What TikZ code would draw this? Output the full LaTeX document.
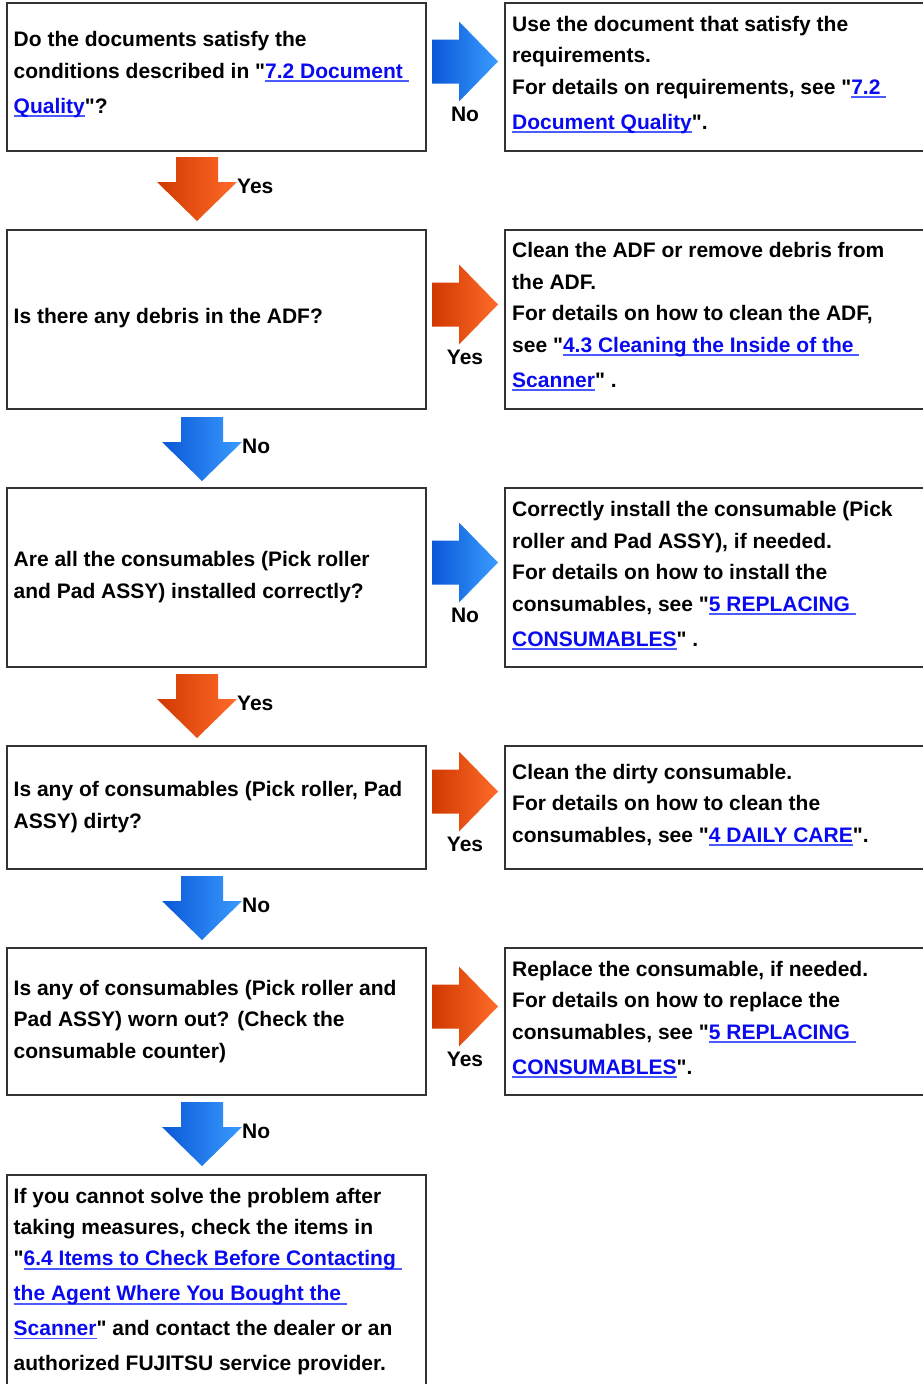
\documentclass[tikz,border=0pt]{standalone}
\usepackage{fontspec}
\setmainfont{Liberation Sans}[Ligatures=TeXOff]
\usetikzlibrary{calc}
\definecolor{linkblue}{HTML}{0A0AF0}
\definecolor{ulblue}{HTML}{4B5BFF}
\definecolor{boxgray}{HTML}{333333}
\definecolor{bluelight}{HTML}{3A9BFF}
\definecolor{bluemid}{HTML}{1F80FF}
\definecolor{bluedark}{HTML}{0A58D6}
\definecolor{orglight}{HTML}{FF6C2A}
\definecolor{orgmid}{HTML}{FF5A14}
\definecolor{orgdark}{HTML}{D03800}

% underlined cross reference
\newcommand{\lnk}[1]{{\color{linkblue}\setbox0\hbox{#1}\rlap{\color{ulblue}\rule[-3.8pt]{\wd0}{1.6pt}}\box0}}

\begin{document}
\begin{tikzpicture}[x=1pt, y=-1pt,
  box/.style={draw=boxgray, line width=1.4pt, inner sep=0pt, outer sep=0pt, anchor=north west},
  txt/.style={anchor=base west, align=left, inner sep=0pt, font=\fontsize{21}{31.4}\selectfont\bfseries},
  lab/.style={inner sep=0pt, font=\fontsize{21}{25}\selectfont\bfseries}]
  \fill[white] (0,0) rectangle (922,1384);
  \useasboundingbox (0,0) rectangle (922,1384);

  % Questions (left column)
  \node[box, minimum width=419, minimum height=148] (q1) at (7,3) {};
  \node[box, minimum width=419, minimum height=179] (q2) at (7,230) {};
  \node[box, minimum width=419, minimum height=179] (q3) at (7,488) {};
  \node[box, minimum width=419, minimum height=123] (q4) at (7,746) {};
  \node[box, minimum width=419, minimum height=147] (q5) at (7,948) {};
  \node[box, minimum width=419, minimum height=220] (q6) at (7,1175) {};

  % Remedies (right column)
  \node[box, minimum width=425, minimum height=148] (r1) at (505,3) {};
  \node[box, minimum width=425, minimum height=179] (r2) at (505,230) {};
  \node[box, minimum width=425, minimum height=179] (r3) at (505,488) {};
  \node[box, minimum width=425, minimum height=123] (r4) at (505,746) {};
  \node[box, minimum width=425, minimum height=147] (r5) at (505,948) {};

  % Texts (placed at the baseline of their last line)
  \node[txt] (q1t) at ($(q1.north west)+(6.5,110)$) {Do the documents satisfy the\\
    conditions described in "\lnk{7.2 Document\ }\\[3.5pt]
    \lnk{Quality}"?};
  \node[txt] (q2t) at ($(q2.north west)+(6.5,93)$) {Is there any debris in the ADF?};
  \node[txt] (q3t) at ($(q3.north west)+(6.5,110)$) {Are all the consumables (Pick roller\\
    and Pad ASSY) installed correctly?};
  \node[txt] (q4t) at ($(q4.north west)+(6.5,82)$) {Is any of consumables (Pick roller, Pad\\
    ASSY) dirty?};
  \node[txt] (q5t) at ($(q5.north west)+(6.5,110)$) {Is any of consumables (Pick roller and\\
    Pad ASSY) worn out? (Check the\\
    consumable counter)};
  \node[txt] (q6t) at ($(q6.north west)+(6.5,195)$) {If you cannot solve the problem after\\
    taking measures, check the items in\\
    "\lnk{6.4 Items to Check Before Contacting\ }\\[3.5pt]
    \lnk{the Agent Where You Bought the\ }\\[3.5pt]
    \lnk{Scanner}" and contact the dealer or an\\[3pt]
    authorized FUJITSU service provider.};

  \node[txt] (r1t) at ($(r1.north west)+(7,126)$) {Use the document that satisfy the\\
    requirements.\\
    For details on requirements, see "\lnk{7.2\ }\\[3.5pt]
    \lnk{Document Quality}".};
  \node[txt] (r2t) at ($(r2.north west)+(7,157)$) {Clean the ADF or remove debris from\\
    the ADF.\\
    For details on how to clean the ADF,\\
    see "\lnk{4.3 Cleaning the Inside of the\ }\\[3.5pt]
    \lnk{Scanner}" .};
  \node[txt] (r3t) at ($(r3.north west)+(7,158)$) {Correctly install the consumable (Pick\\
    roller and Pad ASSY), if needed.\\
    For details on how to install the\\
    consumables, see "\lnk{5 REPLACING\ }\\[3.5pt]
    \lnk{CONSUMABLES}" .};
  \node[txt] (r4t) at ($(r4.north west)+(7,96)$) {Clean the dirty consumable.\\
    For details on how to clean the\\
    consumables, see "\lnk{4 DAILY CARE}".};
  \node[txt] (r5t) at ($(r5.north west)+(7,126)$) {Replace the consumable, if needed.\\
    For details on how to replace the\\
    consumables, see "\lnk{5 REPLACING\ }\\[3.5pt]
    \lnk{CONSUMABLES}".};

  % Down arrows
  \foreach \cx/\ty/\cd/\cm/\cl/\lbl [count=\i] in {197/157/orgdark/orgmid/orglight/Yes,
      202/417/bluedark/bluemid/bluelight/No, 197/674/orgdark/orgmid/orglight/Yes,
      202/876/bluedark/bluemid/bluelight/No, 202/1102/bluedark/bluemid/bluelight/No} {
    \shade[left color=\cd, middle color=\cm, right color=\cl] (\cx-21,\ty) -- (\cx+21,\ty) -- (\cx+21,\ty+25)
      -- (\cx+40,\ty+25) -- (\cx,\ty+64) -- (\cx-40,\ty+25) -- (\cx-21,\ty+25) -- cycle;
    \node[lab, anchor=base west] (d\i) at (\cx+40,\ty+36) {\lbl};
  }

  % Right arrows
  \foreach \cy/\cd/\cm/\cl/\lbl [count=\i] in {61.5/bluedark/bluemid/bluelight/No,
      304.5/orgdark/orgmid/orglight/Yes, 562.5/bluedark/bluemid/bluelight/No,
      791.5/orgdark/orgmid/orglight/Yes, 1006.5/orgdark/orgmid/orglight/Yes} {
    \shade[left color=\cd, middle color=\cm, right color=\cl] (432,\cy-22) -- (459,\cy-22) -- (459,\cy-40)
      -- (498,\cy) -- (459,\cy+40) -- (459,\cy+22) -- (432,\cy+22) -- cycle;
    \node[lab, anchor=base] (h\i) at (465,\cy+59.5) {\lbl};
  }
\end{tikzpicture}
\end{document}
